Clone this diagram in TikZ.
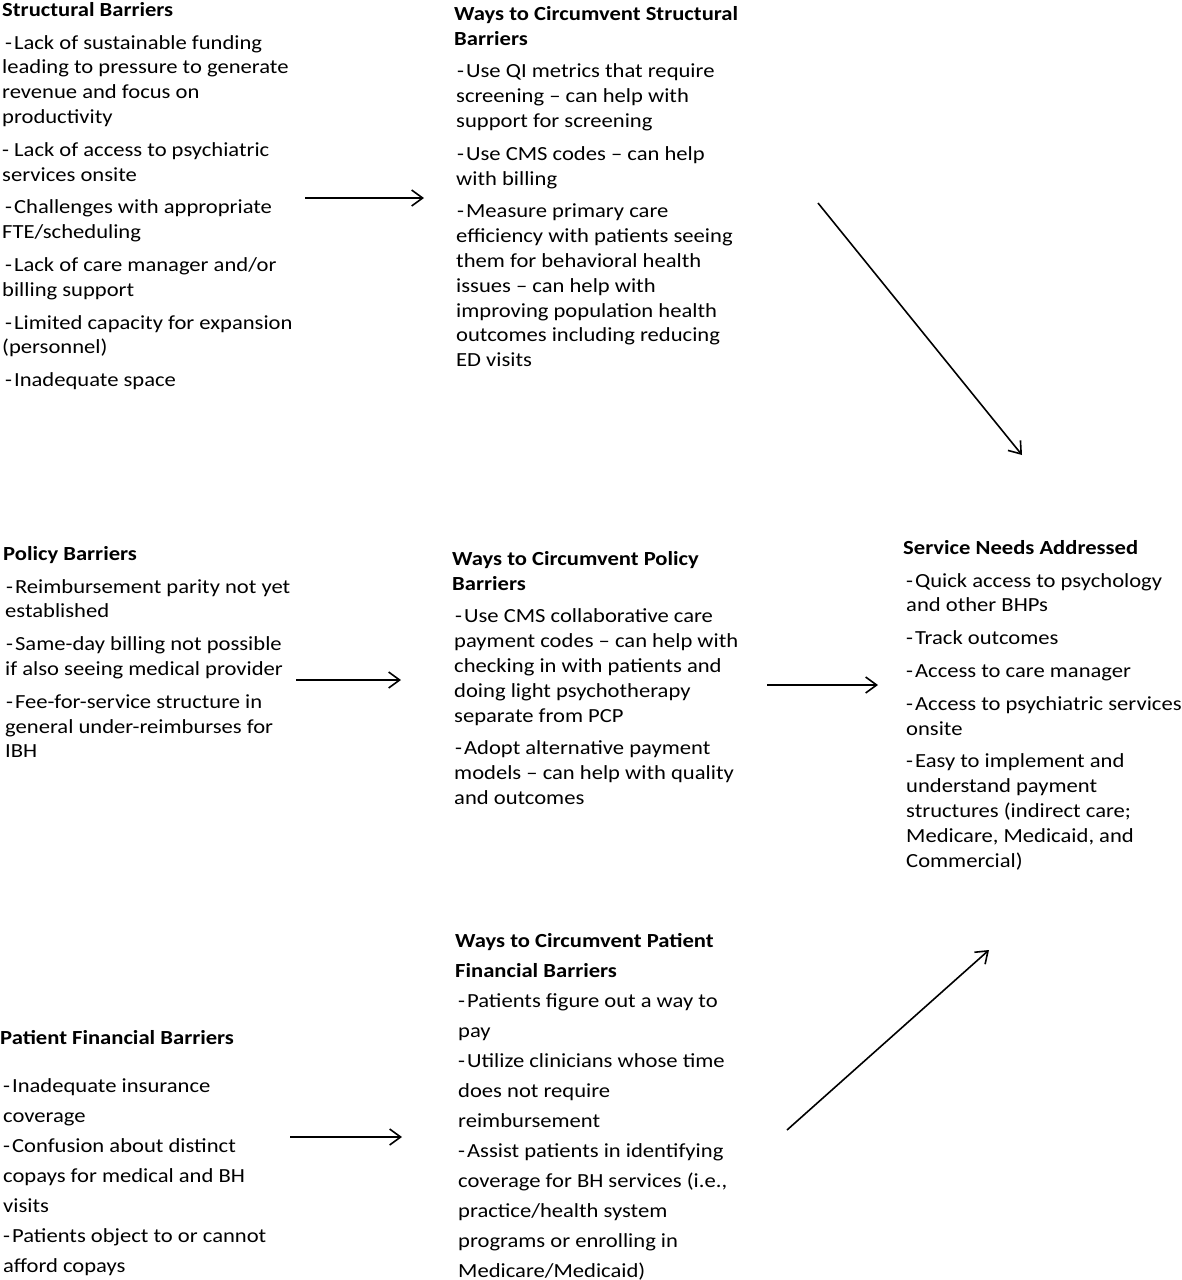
\documentclass[tikz,border=0pt]{standalone}
\usepackage{fontspec}
\setmainfont{Carlito}[FakeStretch=1.13]
\usetikzlibrary{arrows.meta}
\tikzstyle{blk}=[anchor=north west, inner sep=0, align=left,
		font=\fontsize{20}{24.8}\selectfont]
\tikzstyle{blkw}=[blk, font=\fontsize{20}{30}\selectfont]
\tikzstyle{arr}=[-{Straight Barb[length=11pt,width=16pt]}, line width=1.6pt]
\newcommand{\bi}{\hspace{3pt}-\hspace{2pt}}
\begin{document}
\begin{tikzpicture}[x=1pt,y=-1pt]
                \useasboundingbox (0,0) rectangle (1181,1280);
                % barriers
                \node[blk] (sb) at (2,2) {\textbf{Structural Barriers}\\[8pt]
                    \bi Lack of sustainable funding\\
                    leading to pressure to generate\\
                    revenue and focus on\\
                    productivity\\[8pt]
                    - Lack of access to psychiatric\\
                    services onsite\\[8pt]
                    \bi Challenges with appropriate\\
                    FTE/scheduling\\[8pt]
                    \bi Lack of care manager and/or\\
                    billing support\\[8pt]
                    \bi Limited capacity for expansion\\
                    (personnel)\\[8pt]
                    \bi Inadequate space};
                \node[blk] (pb) at (3,546) {\textbf{Policy Barriers}\\[8pt]
                    \bi Reimbursement parity not yet\\
                    \hspace{2pt}established\\[8pt]
                    \bi Same-day billing not possible\\
                    \hspace{2pt}if also seeing medical provider\\[8pt]
                    \bi Fee-for-service structure in\\
                    \hspace{2pt}general under-reimburses for\\
                    \hspace{2pt}IBH};
                \node[blkw] (fb) at (0,1030) {\textbf{Patient Financial Barriers}\\[18pt]
                    \bi Inadequate insurance\\
                    \hspace{3pt}coverage\\
                    \bi Confusion about distinct\\
                    \hspace{3pt}copays for medical and BH\\
                    \hspace{3pt}visits\\
                    \bi Patients object to or cannot\\
                    \hspace{3pt}afford copays};
                % ways to circumvent
                \node[blk] (ws) at (454,6) {\textbf{Ways to Circumvent Structural}\\
                    \textbf{Barriers}\\[8pt]
                    \bi Use QI metrics that require\\
                    \hspace{2pt}screening -- can help with\\
                    \hspace{2pt}support for screening\\[8pt]
                    \bi Use CMS codes -- can help\\
                    \hspace{2pt}with billing\\[8pt]
                    \bi Measure primary care\\
                    \hspace{2pt}efficiency with patients seeing\\
                    \hspace{2pt}them for behavioral health\\
                    \hspace{2pt}issues -- can help with\\
                    \hspace{2pt}improving population health\\
                    \hspace{2pt}outcomes including reducing\\
                    \hspace{2pt}ED visits};
                \node[blk] (wp) at (452,551) {\textbf{Ways to Circumvent Policy}\\
                    \textbf{Barriers}\\[8pt]
                    \bi Use CMS collaborative care\\
                    \hspace{2pt}payment codes -- can help with\\
                    \hspace{2pt}checking in with patients and\\
                    \hspace{2pt}doing light psychotherapy\\
                    \hspace{2pt}separate from PCP\\[8pt]
                    \bi Adopt alternative payment\\
                    \hspace{2pt}models -- can help with quality\\
                    \hspace{2pt}and outcomes};
                \node[blkw] (wf) at (455,933) {\textbf{Ways to Circumvent Patient}\\
                    \textbf{Financial Barriers}\\
                    \bi Patients figure out a way to\\
                    \hspace{3pt}pay\\
                    \bi Utilize clinicians whose time\\
                    \hspace{3pt}does not require\\
                    \hspace{3pt}reimbursement\\
                    \bi Assist patients in identifying\\
                    \hspace{3pt}coverage for BH services (i.e.,\\
                    \hspace{3pt}practice/health system\\
                    \hspace{3pt}programs or enrolling in\\
                    \hspace{3pt}Medicare/Medicaid)};
                % outcome
                \node[blk] (sn) at (903,540) {\textbf{Service Needs Addressed}\\[8pt]
                    \bi Quick access to psychology\\
                    \hspace{3pt}and other BHPs\\[8pt]
                    \bi Track outcomes\\[8pt]
                    \bi Access to care manager\\[8pt]
                    \bi Access to psychiatric services\\
                    \hspace{3pt}onsite\\[8pt]
                    \bi Easy to implement and\\
                    \hspace{3pt}understand payment\\
                    \hspace{3pt}structures (indirect care;\\
                    \hspace{3pt}Medicare, Medicaid, and\\
                    \hspace{3pt}Commercial)};
                % arrows
                \coordinate (s1) at (305,198);  \coordinate (e1) at (424,198);
                \coordinate (s2) at (818,203);  \coordinate (e2) at (1022,455);
                \coordinate (s3) at (296,680);  \coordinate (e3) at (401,680);
                \coordinate (s4) at (767,685);  \coordinate (e4) at (878,685);
                \coordinate (s5) at (290,1137); \coordinate (e5) at (402,1137);
                \coordinate (s6) at (787,1130); \coordinate (e6) at (989,950);
                \foreach \i in {1,...,6}
                    \draw[arr] (s\i) -- (e\i);
            \end{tikzpicture}
\end{document}
